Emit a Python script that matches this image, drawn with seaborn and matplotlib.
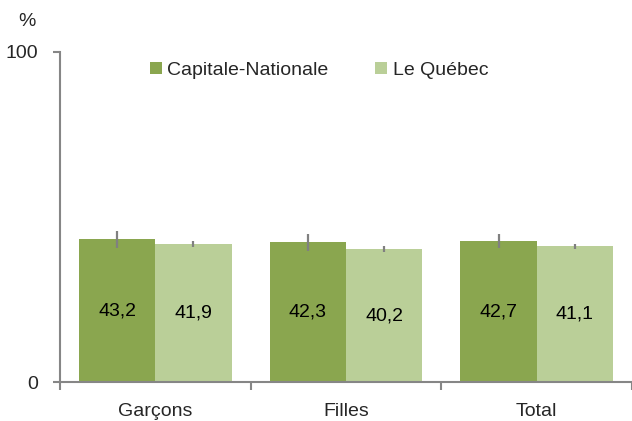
import seaborn as sns
import matplotlib.pyplot as plt
import pandas as pd

# --- data ---
groups = ['Garçons', 'Filles', 'Total']
regions = ['Capitale-Nationale', 'Le Québec']
capitale = [43.2, 42.3, 42.7]
quebec = [41.9, 40.2, 41.1]
capitale_err = [2.7, 2.6, 2.2]
quebec_err = [0.9, 0.9, 0.8]

df = pd.DataFrame({
    'Groupe': groups * 2,
    'Region': [regions[0]] * 3 + [regions[1]] * 3,
    'Pct': capitale + quebec,
    'Err': capitale_err + quebec_err,
})

sns.set_style("white")
plt.rcParams['font.family'] = ['Liberation Sans', 'DejaVu Sans']
FS = 14

fig = plt.figure(figsize=(6.32, 4.21), dpi=100)
ax = fig.add_axes([0.095, 0.0926, 0.905, 0.784])

palette = {'Capitale-Nationale': '#8aa64f', 'Le Québec': '#bacf98'}
sns.barplot(data=df, x='Groupe', y='Pct', hue='Region', order=groups,
            hue_order=regions, palette=palette, errorbar=None, width=0.8,
            saturation=1, linewidth=0, ax=ax)

# error bars and value labels from the drawn bars
for i, cont in enumerate(ax.containers):
    errs = capitale_err if i == 0 else quebec_err
    vals = capitale if i == 0 else quebec
    for bar, e, v in zip(cont, errs, vals):
        cx = bar.get_x() + bar.get_width() / 2
        h = bar.get_height()
        ax.plot([cx, cx], [h - e, h + e], color='#808080', lw=1.6,
                solid_capstyle='butt', zorder=3)
        ax.text(cx, h / 2, f'{v:.1f}'.replace('.', ','), ha='center',
                va='center', fontsize=FS, color='black')

ax.set_xlim(-0.5, 2.5)
ax.set_ylim(0, 100)
ax.set_yticks([0, 100])
ax.tick_params(axis='y', length=5, width=1.5, color='#868686', pad=11,
               labelsize=FS, left=True)
ax.set_xticks([-0.5, 0.5, 1.5, 2.5], minor=True)
ax.tick_params(axis='x', which='minor', length=6, width=1.5,
               color='#868686', bottom=True)
ax.tick_params(axis='x', which='major', length=0, pad=15, labelsize=FS)

for s in ['top', 'right']:
    ax.spines[s].set_visible(False)
for s in ['left', 'bottom']:
    ax.spines[s].set_color('#868686')
    ax.spines[s].set_linewidth(1.5)

ax.set_xlabel('')
ax.set_ylabel('')
fig.text(18 / 632, 1 - 22 / 421, '%', ha='left', va='center', fontsize=FS)

leg = ax.legend(loc='center', bbox_to_anchor=(0.453, 0.945), ncol=2,
                frameon=False, fontsize=FS, handlelength=0.6,
                handleheight=0.6, handletextpad=0.3, columnspacing=2.4)

fig.savefig('out.png', dpi=100)
